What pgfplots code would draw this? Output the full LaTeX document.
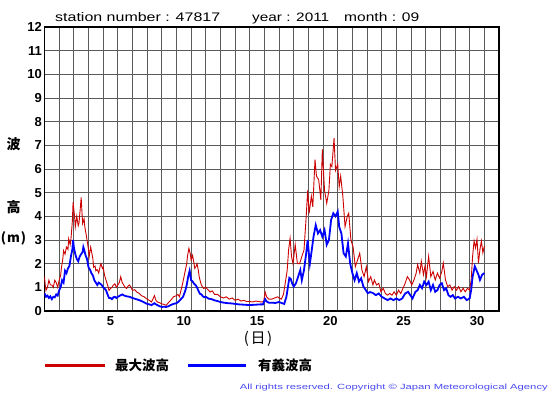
\documentclass[border=0pt]{standalone}
\usepackage{fontspec}
\setmainfont{Liberation Sans}
\newfontfamily\jp{Noto Sans CJK JP}
\usepackage{pgfplots}
\pgfplotsset{compat=1.18}
\usepackage{graphicx}
\definecolor{jmared}{RGB}{204,0,0}
\definecolor{jmablue}{RGB}{0,0,255}
\definecolor{copyblue}{RGB}{72,72,240}
\definecolor{gridgray}{RGB}{90,90,90}

\pgfplotstableread{
x y
1.0 1.45
1.05 1.1
1.1 0.87
1.2 1.0
1.3 1.3
1.4 1.1
1.5 1.1
1.6 1.0
1.7 1.3
1.8 1.2
1.9 1.0
2.0 1.3
2.1 1.5
2.15 1.8
2.25 2.2
2.3 2.55
2.4 2.4
2.5 2.7
2.6 2.6
2.65 3.05
2.75 2.8
2.8 3.0
2.9 3.8
2.95 4.6
3.05 4.0
3.1 3.55
3.2 4.0
3.3 3.6
3.35 3.7
3.45 4.4
3.5 4.8
3.6 3.7
3.7 3.9
3.75 3.55
3.85 3.2
3.9 3.0
4.0 2.6
4.05 2.3
4.15 2.7
4.2 2.55
4.3 2.2
4.35 1.85
4.45 1.9
4.5 1.7
4.6 1.75
4.7 1.6
4.8 1.9
4.85 2.0
4.95 1.8
5.0 1.85
5.1 1.5
5.2 1.3
5.3 1.1
5.4 0.87
5.5 0.95
5.6 1.0
5.7 1.1
5.8 1.15
5.9 1.0
6.0 1.1
6.1 1.2
6.2 1.45
6.3 1.2
6.4 1.1
6.5 1.0
6.6 0.95
6.7 1.05
6.8 1.1
6.9 1.0
7.0 0.87
7.15 0.9
7.3 0.8
7.45 0.75
7.6 0.65
7.8 0.6
8.0 0.5
8.15 0.45
8.3 0.38
8.5 0.65
8.6 0.45
8.7 0.38
8.85 0.35
9.0 0.3
9.15 0.28
9.3 0.24
9.45 0.35
9.6 0.45
9.8 0.6
10.0 0.65
10.1 0.7
10.2 0.6
10.3 0.85
10.4 1.1
10.5 1.4
10.6 1.7
10.7 2.0
10.75 2.3
10.85 2.65
10.95 2.4
11.0 2.15
11.1 2.35
11.2 2.0
11.25 1.8
11.35 1.9
11.4 2.0
11.5 1.7
11.55 1.45
11.65 1.2
11.7 1.1
11.85 0.95
12.0 1.0
12.15 0.9
12.3 0.8
12.45 0.85
12.6 0.7
12.8 0.7
13.0 0.6
13.2 0.55
13.4 0.6
13.6 0.5
13.8 0.55
14.0 0.45
14.2 0.5
14.4 0.42
14.6 0.45
14.8 0.4
15.0 0.4
15.2 0.38
15.4 0.42
15.6 0.4
15.8 0.38
15.95 0.4
16.05 0.8
16.15 0.6
16.3 0.5
16.5 0.5
16.7 0.55
16.9 0.6
17.0 0.55
17.15 0.5
17.3 0.7
17.45 1.3
17.55 1.7
17.65 2.58
17.75 3.07
17.85 2.3
17.95 2.0
18.1 2.8
18.25 2.0
18.4 2.0
18.55 2.3
18.7 2.58
18.85 4.0
18.95 5.1
19.05 4.13
19.2 4.85
19.3 4.4
19.45 6.4
19.55 5.7
19.7 5.55
19.85 4.7
19.95 6.83
20.1 5.1
20.25 4.55
20.4 5.1
20.5 6.2
20.6 6.1
20.75 7.3
20.85 5.94
21.0 6.2
21.1 5.25
21.2 5.7
21.35 4.85
21.5 3.56
21.65 4.0
21.75 4.13
21.9 3.0
22.05 2.7
22.2 1.87
22.35 2.15
22.5 2.44
22.65 1.73
22.8 1.45
22.95 1.87
23.1 1.24
23.25 1.45
23.4 1.1
23.5 1.31
23.65 1.1
23.8 1.17
23.95 0.81
24.1 0.96
24.25 0.74
24.4 0.67
24.55 0.74
24.7 0.67
24.85 0.81
25.0 0.67
25.15 0.88
25.3 0.74
25.45 0.96
25.6 1.17
25.75 1.45
25.9 1.31
26.05 1.1
26.2 1.31
26.35 1.6
26.45 1.96
26.6 1.6
26.7 2.1
26.85 1.53
26.95 1.89
27.05 1.45
27.2 2.31
27.35 1.45
27.5 1.67
27.65 1.31
27.8 1.6
27.95 1.39
28.1 1.67
28.2 2.03
28.35 1.31
28.5 1.03
28.65 1.1
28.8 0.88
28.95 1.03
29.1 0.88
29.25 1.03
29.4 0.81
29.55 0.96
29.7 0.81
29.85 0.96
30.0 0.88
30.1 1.31
30.2 2.31
30.3 2.96
30.4 2.67
30.5 3.03
30.6 2.03
30.7 2.6
30.8 2.96
30.9 2.46
31.0 2.74
}\maxwave

\pgfplotstableread{
x y
1.0 0.75
1.1 0.6
1.2 0.65
1.3 0.55
1.4 0.62
1.5 0.5
1.6 0.6
1.7 0.58
1.8 0.7
1.9 0.65
2.0 0.87
2.1 1.0
2.2 1.3
2.3 1.2
2.4 1.7
2.5 1.6
2.6 1.8
2.7 1.9
2.8 2.3
2.9 2.6
2.95 3.0
3.0 2.7
3.1 2.4
3.2 2.2
3.3 2.1
3.4 2.3
3.5 2.4
3.6 2.5
3.65 2.7
3.7 2.6
3.8 2.35
3.9 2.2
4.0 1.85
4.1 1.75
4.2 1.6
4.3 1.5
4.4 1.3
4.5 1.2
4.6 1.1
4.7 1.2
4.8 1.15
4.9 1.1
5.0 1.0
5.1 0.95
5.2 0.87
5.3 0.7
5.4 0.55
5.5 0.55
5.6 0.5
5.7 0.58
5.8 0.6
5.9 0.55
6.0 0.6
6.15 0.65
6.3 0.7
6.45 0.65
6.6 0.62
6.8 0.6
7.0 0.55
7.25 0.5
7.5 0.45
7.75 0.38
8.0 0.3
8.15 0.28
8.3 0.25
8.5 0.33
8.6 0.28
8.7 0.25
8.85 0.2
9.0 0.17
9.15 0.18
9.3 0.17
9.45 0.2
9.6 0.25
9.8 0.3
10.0 0.33
10.15 0.4
10.3 0.5
10.45 0.6
10.6 0.85
10.7 1.1
10.8 1.45
10.9 1.7
10.95 1.5
11.0 1.3
11.1 1.25
11.2 1.15
11.3 1.1
11.4 1.0
11.5 0.85
11.6 0.73
11.7 0.7
11.8 0.62
11.9 0.58
12.0 0.6
12.2 0.52
12.4 0.5
12.6 0.45
12.8 0.42
13.0 0.38
13.25 0.35
13.5 0.33
13.75 0.32
14.0 0.3
14.25 0.28
14.5 0.27
14.75 0.26
15.0 0.25
15.25 0.26
15.5 0.27
15.75 0.28
15.9 0.28
16.05 0.5
16.15 0.4
16.3 0.35
16.5 0.35
16.75 0.34
17.0 0.38
17.2 0.33
17.35 0.3
17.5 0.6
17.6 1.0
17.7 1.4
17.8 1.35
17.9 1.15
18.0 1.03
18.15 1.17
18.3 1.45
18.45 1.73
18.55 1.3
18.7 1.73
18.85 2.44
18.95 3.0
19.05 2.3
19.1 2.0
19.2 2.44
19.35 3.14
19.5 3.63
19.65 3.28
19.8 3.42
19.95 3.14
20.1 3.42
20.25 2.8
20.4 3.0
20.55 3.85
20.7 4.13
20.85 4.0
21.0 4.2
21.1 3.56
21.25 3.28
21.4 2.44
21.55 2.3
21.7 2.86
21.85 2.0
22.0 1.6
22.15 1.3
22.3 1.6
22.45 1.24
22.6 1.38
22.75 1.03
22.9 0.9
23.05 0.75
23.2 0.8
23.4 0.76
23.6 0.67
23.8 0.74
24.0 0.6
24.2 0.53
24.4 0.46
24.6 0.53
24.8 0.46
25.0 0.53
25.2 0.46
25.4 0.53
25.6 0.74
25.8 0.81
25.95 0.67
26.1 0.53
26.3 0.81
26.45 0.88
26.6 1.1
26.75 0.96
26.9 1.24
27.05 1.1
27.2 1.24
27.35 0.88
27.5 1.1
27.65 0.81
27.8 0.88
27.95 1.1
28.1 1.17
28.25 0.88
28.4 0.96
28.55 0.67
28.7 0.6
28.85 0.67
29.0 0.53
29.2 0.6
29.4 0.53
29.6 0.6
29.8 0.46
30.0 0.53
30.1 0.88
30.2 1.45
30.35 1.89
30.5 1.67
30.6 1.53
30.7 1.31
30.85 1.53
31.0 1.6
}\sigwave

\begin{document}
\begin{tikzpicture}[x=1pt,y=1pt]
\path[use as bounding box] (0,0) rectangle (555,395);
\begin{axis}[
  at={(44.5pt,84pt)}, anchor=south west,
  scale only axis, width=454.5pt, height=284pt,
  xmin=1, xmax=32, ymin=0, ymax=12,
  xtick={1,...,32}, xticklabels={},
  extra x ticks={5.5,10.5,15.5,20.5,25.5,30.5},
  extra x tick labels={5,10,15,20,25,30},
  extra x tick style={grid=none, major tick length=0pt},
  ytick={0,...,12},
  major tick length=0pt,
  grid=major,
  major grid style={gridgray, line width=0.9pt},
  axis line style={black, line width=1.6pt},
  /pgf/number format/assume math mode=true,
  ticklabel style={font=\fontsize{13}{13}\selectfont\bfseries, inner sep=0pt},
  yticklabel style={anchor=east, xshift=-2.5pt},
  xticklabel style={anchor=north, yshift=-5pt},
  clip=true,
]
\addplot[jmared, line width=0.9pt] table {\maxwave};
\addplot[jmablue, line width=1.8pt] table {\sigwave};
\end{axis}
% title
\node[anchor=base west, inner sep=0pt] at (55,373.3) {\resizebox{165pt}{9pt}{station number : 47817}};
\node[anchor=base west, inner sep=0pt] at (252,373.3) {\resizebox{77pt}{8.5pt}{year : 2011}};
\node[anchor=base west, inner sep=0pt] at (344,373.3) {\resizebox{75pt}{9pt}{month : 09}};
% y label
\node[inner sep=0pt] at (13.5,251) {\jp\bfseries\fontsize{14}{14}\selectfont 波};
\node[inner sep=0pt] at (13.5,187.5) {\jp\bfseries\fontsize{14}{14}\selectfont 高};
\node[inner sep=0pt] at (13.5,157) {\jp\bfseries\fontsize{13}{13}\selectfont (\hspace{1pt}m\hspace{1pt})};
% x label
\node[inner sep=0pt] at (258,56.2) {\jp\fontsize{15}{15}\selectfont (\hspace{1.5pt}日\hspace{1.5pt})};
% legend
\draw[jmared, line width=2.8pt] (45.2,29.7) -- (104.6,29.7);
\node[anchor=west, inner sep=0pt] at (114.8,29.7) {\jp\bfseries\fontsize{13.5}{14}\selectfont 最大波高};
\draw[jmablue, line width=2.8pt] (188,29.7) -- (245.6,29.7);
\node[anchor=west, inner sep=0pt] at (258,29.7) {\jp\bfseries\fontsize{13.5}{14}\selectfont 有義波高};
% copyright
\node[anchor=south west, inner sep=0pt, text=copyblue] at (239.6,3.4) {\resizebox*{308pt}{7pt}{All rights reserved. Copyright \textcopyright{} Japan Meteorological Agency}};
\end{tikzpicture}
\end{document}
